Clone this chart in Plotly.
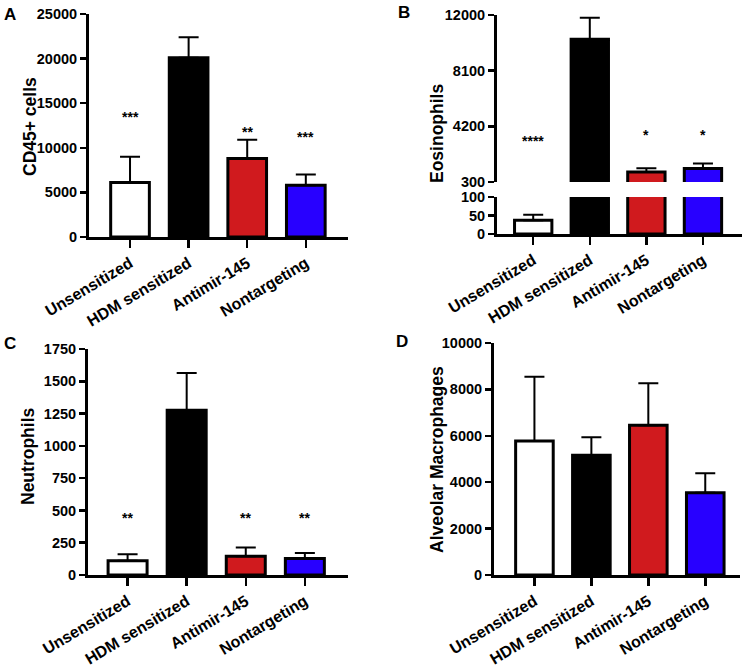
import plotly.graph_objects as go

categories = ["Unsensitized", "HDM sensitized", "Antimir-145", "Nontargeting"]
bar_colors = ["#FFFFFF", "#000000", "#D01A1E", "#2800FF"]

cd45_mean = [6100, 20100, 8800, 5800]
cd45_upper = [9000, 22400, 10900, 7000]
cd45_stars = ["***", "", "**", "***"]
cd45_star_y = [13500, None, 11800, 11200]

eos_mean = [37, 10300, 1000, 1250]
eos_upper = [52, 11800, 1270, 1600]
eos_stars = ["****", "", "*", "*"]
eos_star_y = [3200, None, 3600, 3600]

neu_mean = [110, 1275, 145, 128]
neu_upper = [160, 1565, 212, 170]
neu_stars = ["**", "", "**", "**"]
neu_star_y = [440, None, 440, 440]

am_mean = [5780, 5160, 6460, 3550]
am_upper = [8550, 5940, 8270, 4390]

W, H = 747, 665
FONT = "Arial, Liberation Sans, sans-serif"

fig = go.Figure()


def px_x(p):
    return p / W


def px_y(p):
    return 1 - p / H


def add_bars(xa, ya, mean, upper):
    fig.add_trace(go.Bar(
        x=categories, y=mean, xaxis=xa, yaxis=ya, width=0.66,
        marker=dict(color=bar_colors, line=dict(color="black", width=3)),
        error_y=dict(type="data", symmetric=False,
                     array=[u - m for u, m in zip(upper, mean)],
                     arrayminus=[0] * len(mean),
                     color="black", thickness=2, width=10),
        showlegend=False, hoverinfo="skip",
    ))


add_bars("x", "y", cd45_mean, cd45_upper)
add_bars("x2", "y2", eos_mean, eos_upper)
add_bars("x2", "y3", eos_mean, eos_upper)
add_bars("x3", "y4", neu_mean, neu_upper)
add_bars("x4", "y5", am_mean, am_upper)

tickfont = dict(family=FONT, size=14.5, color="black", weight="bold")
catfont = dict(family=FONT, size=16, color="black", weight="bold")


def xaxis(domain, rng, anchor):
    return dict(domain=domain, range=rng, anchor=anchor, showline=True,
                linewidth=3, linecolor="black", ticks="outside", ticklen=8,
                tickwidth=2.5, tickcolor="black", tickangle=-31,
                tickfont=catfont, showgrid=False, zeroline=False,
                fixedrange=True, automargin=False, ticklabeloverflow="allow")


def yaxis(domain, rng, anchor, tickvals):
    return dict(domain=domain, range=rng, anchor=anchor, showline=True,
                linewidth=3, linecolor="black", ticks="outside", ticklen=6,
                tickwidth=2.5, tickcolor="black", tickvals=tickvals,
                ticktext=[str(v) for v in tickvals],
                tickfont=tickfont, showgrid=False, zeroline=False,
                fixedrange=True, automargin=False, ticklabeloverflow="allow")


fig.update_layout(
    width=W, height=H, margin=dict(l=0, r=0, t=0, b=0, autoexpand=False),
    paper_bgcolor="white", plot_bgcolor="rgba(0,0,0,0)",
    xaxis=xaxis([px_x(89), px_x(348)], [-0.70, 3.72], "y"),
    yaxis=yaxis([px_y(237), px_y(14)], [0, 25000], "x",
                [0, 5000, 10000, 15000, 20000, 25000]),
    xaxis2=xaxis([px_x(497), px_x(742)], [-0.64, 3.69], "y3"),
    yaxis2=yaxis([px_y(182), px_y(15)], [300, 12000], "x2",
                 [300, 4200, 8100, 12000]),
    yaxis3=yaxis([px_y(234), px_y(197)], [0, 100], "x2", [0, 50, 100]),
    xaxis3=xaxis([px_x(88), px_x(348)], [-0.67, 3.73], "y4"),
    yaxis4=yaxis([px_y(575), px_y(349)], [0, 1750], "x3",
                 [0, 250, 500, 750, 1000, 1250, 1500, 1750]),
    xaxis4=xaxis([px_x(494), px_x(740)], [-0.71, 3.61], "y5"),
    yaxis5=yaxis([px_y(575), px_y(343)], [0, 10000], "x4",
                 [0, 2000, 4000, 6000, 8000, 10000]),
)

annotations = []


def stars(xa, ya, labels, ys):
    for c, s, yv in zip(categories, labels, ys):
        if s:
            annotations.append(dict(x=c, y=yv, xref=xa, yref=ya, text=s,
                                    showarrow=False,
                                    font=dict(family=FONT, size=14,
                                              color="black", weight="bold")))


stars("x", "y", cd45_stars, cd45_star_y)
stars("x2", "y2", eos_stars, eos_star_y)
stars("x3", "y4", neu_stars, neu_star_y)

titles = [("CD45+ cells", 30, 127), ("Eosinophils", 437, 133),
          ("Neutrophils", 28, 457), ("Alveolar Macrophages", 437, 459)]
for t, xp, yp in titles:
    annotations.append(dict(x=px_x(xp), y=px_y(yp), xref="paper", yref="paper",
                            text=t, textangle=-90, showarrow=False,
                            xanchor="center", yanchor="middle",
                            font=dict(family=FONT, size=17.5, color="black",
                                      weight="bold")))

letters = [("A", 2, 3), ("B", 396, 1), ("C", 2, 332), ("D", 394, 330)]
for t, xp, yp in letters:
    annotations.append(dict(x=px_x(xp), y=px_y(yp), xref="paper", yref="paper",
                            text=t, showarrow=False, xanchor="left",
                            yanchor="top",
                            font=dict(family=FONT, size=17, color="black",
                                      weight="bold")))

fig.update_layout(annotations=annotations)
fig.write_html("out.html",
               config={"displayModeBar": False, "staticPlot": True},
               post_script="document.body.style.margin='0';"
                           "document.body.style.overflow='hidden';")
